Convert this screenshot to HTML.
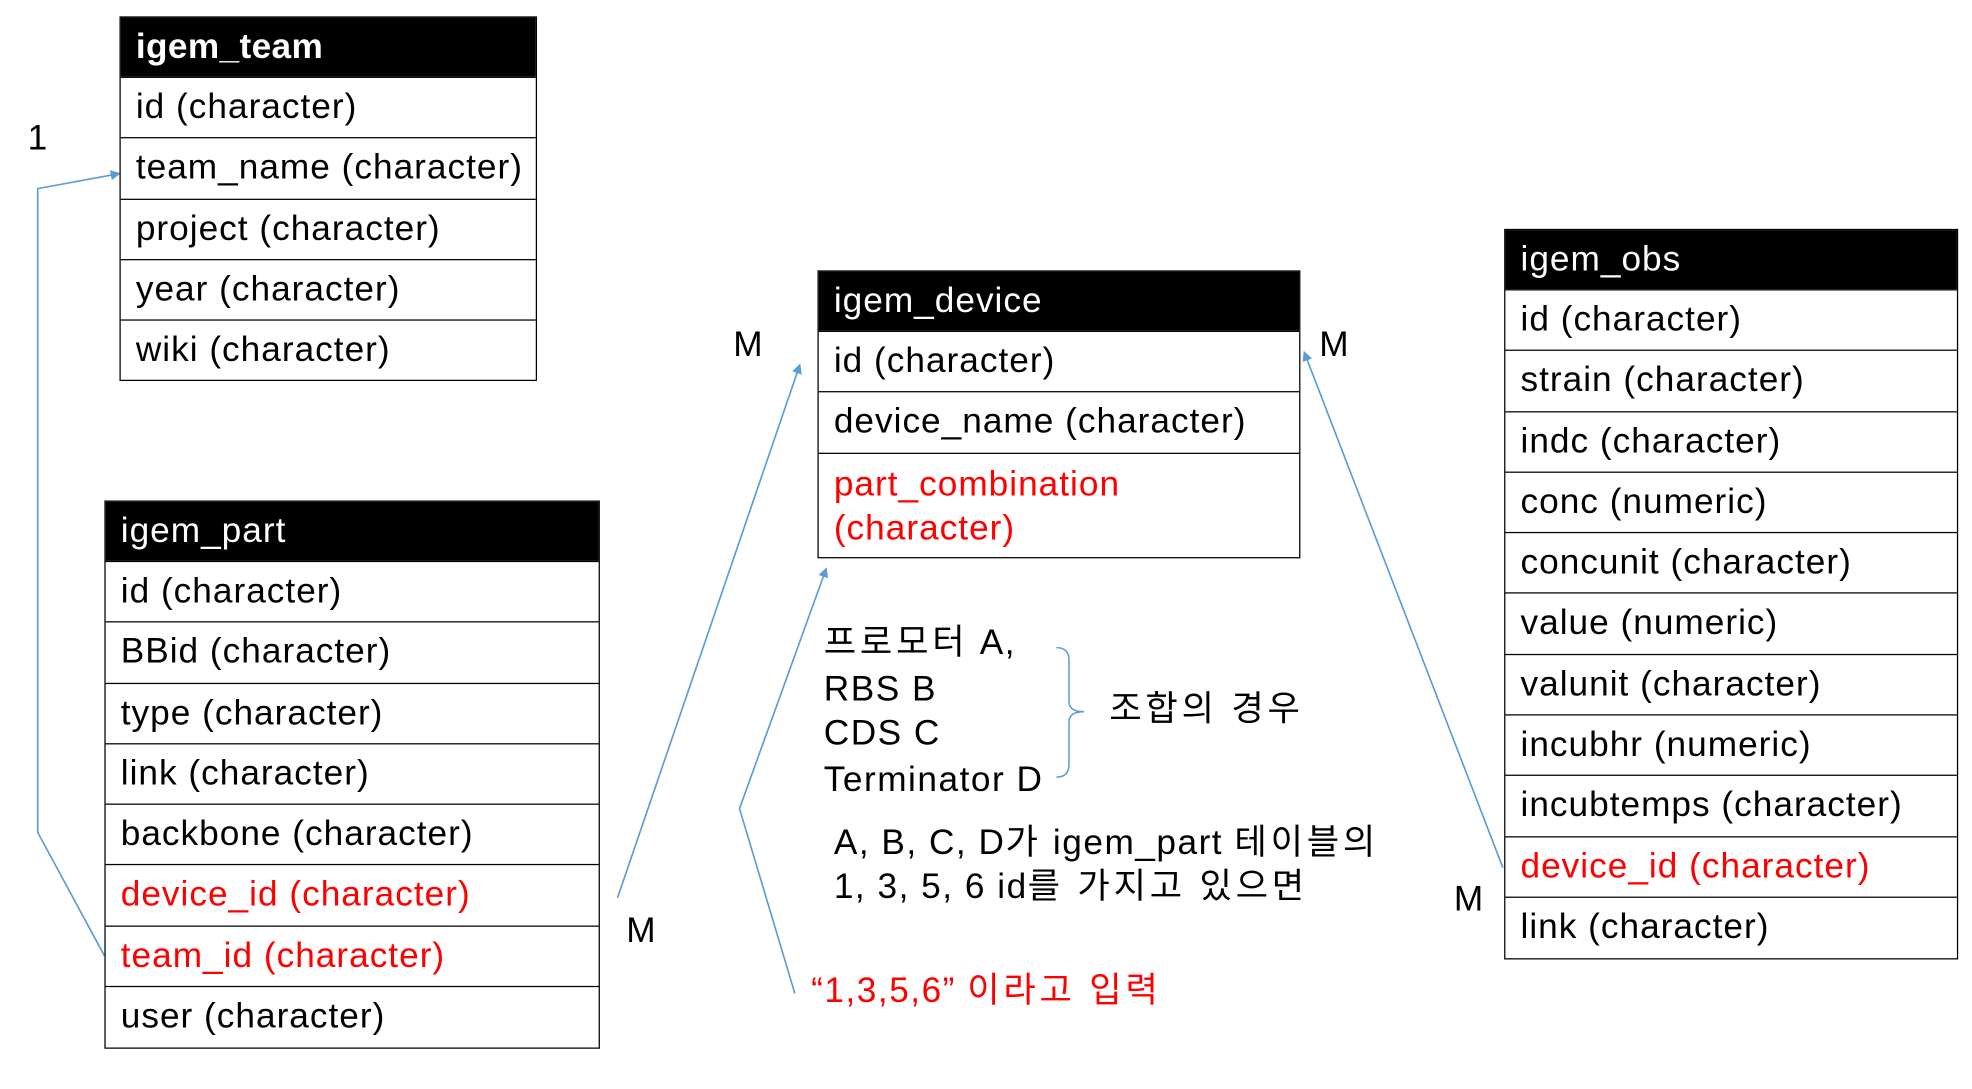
<!DOCTYPE html>
<html><head><meta charset="utf-8"><style>
html,body{margin:0;padding:0;background:#fff;overflow:hidden}
#w{position:absolute;left:0;top:0;width:1568px;height:866px;transform:scale(1.25765,1.2575);transform-origin:0 0;font-family:"Liberation Sans","Noto Sans CJK KR",sans-serif;}
.t{position:absolute;border:1.5px solid #000;box-sizing:border-box;background:#fff}
.t div{border-top:1.5px solid #000;box-sizing:border-box;height:48.3px;line-height:46px;padding-left:12px;font-size:28px;color:#000;white-space:nowrap;letter-spacing:0.8px}
.t div.h{background:#000;color:#fff;border-top:none;height:47px}
.t div.b{font-weight:bold;letter-spacing:0.3px}
.r{color:#f00!important}
.x{position:absolute;font-size:28px;white-space:nowrap;line-height:1;letter-spacing:1.2px}
.k{letter-spacing:3px}
svg{position:absolute;left:0;top:0}
</style></head><body><div id="w">
<svg width="1568" height="866" viewBox="0 0 1568 866">
<defs><marker id="a" markerWidth="8" markerHeight="8" refX="7" refY="4" orient="auto" markerUnits="userSpaceOnUse"><path d="M0,0 L8,4 L0,8 z" fill="#5b9bd5"/></marker></defs>
<g stroke="#5b9bd5" stroke-width="1.3" fill="none">
<polyline points="83,760 30,662 30,150 95,138" marker-end="url(#a)"/>
<line x1="491" y1="714" x2="636" y2="290" marker-end="url(#a)"/>
<line x1="1195" y1="690" x2="1037" y2="280" marker-end="url(#a)"/>
<polyline points="632,790 588,643 657,452" marker-end="url(#a)"/>
<path d="M840,515 Q850,515 850,525 L850,558 Q850,566 862,566 Q850,566 850,574 L850,608 Q850,618 840,618" stroke-width="1.2"/>
</g></svg>
<div class="t" style="left:95px;top:13px;width:332px;height:290px"><div class="h b">igem_team</div><div>id (character)</div><div>team_name (character)</div><div>project (character)</div><div>year (character)</div><div>wiki (character)</div></div>
<div class="t" style="left:83px;top:398px;width:394px;height:436px"><div class="h">igem_part</div><div>id (character)</div><div>BBid (character)</div><div>type (character)</div><div>link (character)</div><div>backbone (character)</div><div class="r">device_id (character)</div><div class="r">team_id (character)</div><div>user (character)</div></div>
<div class="t" style="left:650px;top:215px;width:384px;height:229px"><div class="h">igem_device</div><div>id (character)</div><div>device_name (character)</div><div class="r" style="height:83px;line-height:35px;padding-top:6px">part_combination<br>(character)</div></div>
<div class="t" style="left:1196px;top:182px;width:361px;height:581px"><div class="h">igem_obs</div><div>id (character)</div><div>strain (character)</div><div>indc (character)</div><div>conc (numeric)</div><div>concunit (character)</div><div>value (numeric)</div><div>valunit (character)</div><div>incubhr (numeric)</div><div>incubtemps (character)</div><div class="r">device_id (character)</div><div>link (character)</div></div>
<div class="x" style="left:22px;top:96px">1</div>
<div class="x" style="left:583px;top:260px">M</div>
<div class="x" style="left:498px;top:726px">M</div>
<div class="x" style="left:1049px;top:260px">M</div>
<div class="x" style="left:1156px;top:701px">M</div>
<div class="x" style="left:655px;top:497px"><span class="k">프로모터</span> A,</div>
<div class="x" style="left:655px;top:534px">RBS B</div>
<div class="x" style="left:655px;top:569px">CDS C</div>
<div class="x" style="left:655px;top:606px">Terminator D</div>
<div class="x k" style="left:882px;top:550px">조합의 경우</div>
<div class="x" style="left:663px;top:656px">A, B, C, D<span class="k">가</span> igem_part <span class="k">테이블의</span></div>
<div class="x" style="left:663px;top:691px">1, 3, 5, 6 id<span class="k">를 가지고 있으면</span></div>
<div class="x" style="left:645px;top:774px;color:#f00">“1,3,5,6” <span class="k">이라고 입력</span></div>
</div></body></html>
